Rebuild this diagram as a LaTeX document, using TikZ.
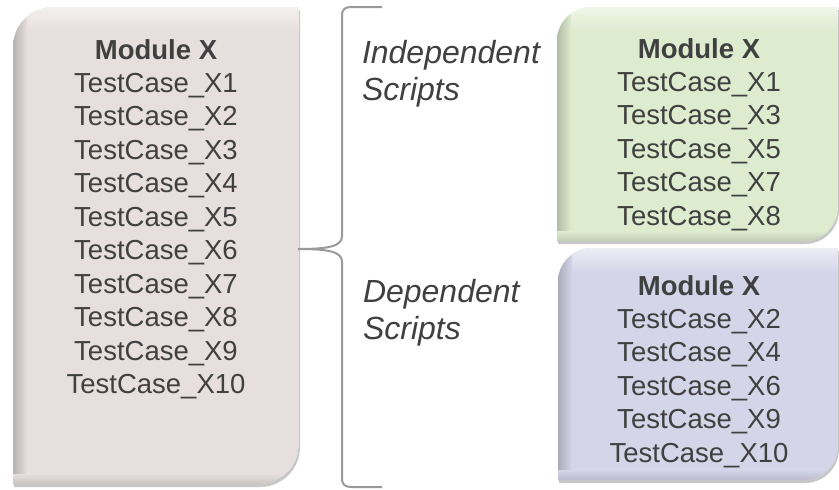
\documentclass[tikz,border=0pt]{standalone}
\usepackage{fontspec}
\setmainfont{Liberation Sans}
\definecolor{txt}{HTML}{404040}
\definecolor{pinkfill}{HTML}{E7DEDE}
\definecolor{greenfill}{HTML}{DDEBCF}
\definecolor{bluefill}{HTML}{D5D5E9}
\definecolor{bracecol}{HTML}{9A9A9A}
% #1 colour, #2 x1, #3 y1, #4 x2, #5 y2, #6 radius
\newcommand\diagbox[6]{%
  \fill[black!40, opacity=0.55]
    (#2+1,#5+3) -- (#2+1,#3+3+#6) .. controls (#2+1,#3+3+0.45*#6) and (#2+1+0.45*#6,#3+3) .. (#2+1+#6,#3+3)
    -- (#4+1,#3+3) -- (#4+1,#5+3-#6) .. controls (#4+1,#5+3-0.45*#6) and (#4+1-0.45*#6,#5+3) .. (#4+1-#6,#5+3) -- cycle;
  \begin{scope}
  \clip (#2,#5) -- (#2,#3+#6) .. controls (#2,#3+0.45*#6) and (#2+0.45*#6,#3) .. (#2+#6,#3)
    -- (#4,#3) -- (#4,#5-#6) .. controls (#4,#5-0.45*#6) and (#4-0.45*#6,#5) .. (#4-#6,#5) -- cycle;
  \fill[#1] (#2,#3) rectangle (#4,#5);
  \shade[top color=#1!45!white, bottom color=#1] (#2,#3) rectangle (#4,#3+24);
  \shade[left color=#1!80!black, right color=#1] (#2,#3) rectangle (#2+14,#5);
  \shade[top color=#1, bottom color=#1!88!black] (#2,#5-10) rectangle (#4,#5);
  \end{scope}}
\begin{document}
\begin{tikzpicture}[x=1pt,y=-1pt,
  every node/.style={inner sep=0pt, outer sep=0pt, text=txt},
  item/.style={font=\fontsize{27.5}{33}\selectfont, anchor=base},
  title/.style={font=\fontsize{27.5}{33}\selectfont\bfseries, anchor=base},
  lbl/.style={font=\fontsize{32}{37}\selectfont\itshape, anchor=base west},
  brace/.style={draw=bracecol, line width=2pt}]
\useasboundingbox (0,0) rectangle (839,490);

% boxes
\diagbox{pinkfill}{13}{7}{299}{484}{40}
\diagbox{greenfill}{557}{7}{838}{241}{34}
\diagbox{bluefill}{558}{248}{838}{480}{34}

% left box text
\node[title] (lt) at (156,59) {Module X};
\foreach \n [count=\k] in {1,2,3,4,5,6,7,8,9,10}
  \node[item] (l\n) at (156,59+\k*33.45) {TestCase\_X\n};

% green box text
\node[title] (gt) at (699,58) {Module X};
\foreach \n [count=\k] in {1,3,5,7,8}
  \node[item] (g\n) at (699,58+\k*33.45) {TestCase\_X\n};

% blue box text
\node[title] (bt) at (699,295) {Module X};
\foreach \n [count=\k] in {2,4,6,9,10}
  \node[item] (b\n) at (699,295+\k*33.4) {TestCase\_X\n};

% labels
\node[lbl] (ind) at (362,63) {Independent};
\node[lbl] (ins) at (362,100) {Scripts};
\node[lbl] (dep) at (363,302) {Dependent};
\node[lbl] (des) at (363,339) {Scripts};

% brace
\coordinate (btop) at (382,7);
\coordinate (btip) at (298,249);
\coordinate (bbot) at (382,487);
\draw[brace] (btop) -- (352,7) .. controls (345,7) and (342,9) .. (342,16)
  -- (342,236) .. controls (342,246) and (330,249) .. (btip)
  .. controls (330,249) and (342,252) .. (342,262)
  -- (342,478) .. controls (342,485) and (345,487) .. (352,487) -- (bbot);
\end{tikzpicture}
\end{document}
